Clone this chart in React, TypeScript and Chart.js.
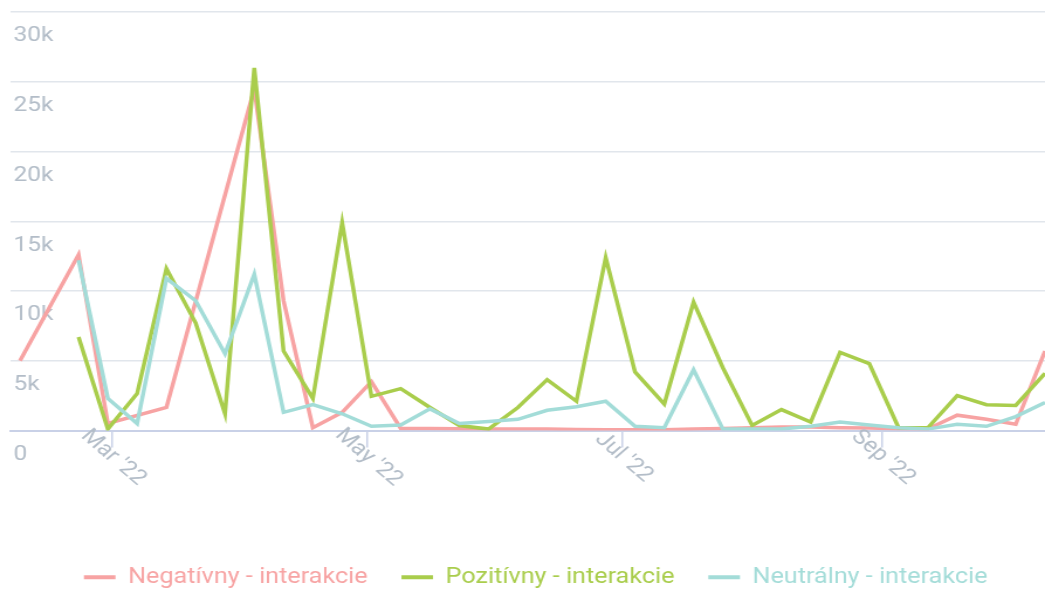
import React, { useEffect, useRef } from 'react';
import { Chart, registerables } from 'chart.js';

Chart.register(...registerables);

// Weekly data points (week start dates)
const weekStarts = [
  '2022-02-07', '2022-02-14', '2022-02-21', '2022-02-28',
  '2022-03-07', '2022-03-14', '2022-03-21', '2022-03-28',
  '2022-04-04', '2022-04-11', '2022-04-18', '2022-04-25',
  '2022-05-02', '2022-05-09', '2022-05-16', '2022-05-23', '2022-05-30',
  '2022-06-06', '2022-06-13', '2022-06-20', '2022-06-27',
  '2022-07-04', '2022-07-11', '2022-07-18', '2022-07-25',
  '2022-08-01', '2022-08-08', '2022-08-15', '2022-08-22', '2022-08-29',
  '2022-09-05', '2022-09-12', '2022-09-19', '2022-09-26',
  '2022-10-03', '2022-10-10',
];

const negativne = [
  5000, null, 12600, 500, null, 1650, null, null,
  24500, 9300, 200, 1300,
  3500, 150, 150, 120, 100,
  100, 100, 80, 60,
  50, 60, 100, 150,
  200, 250, 250, 200, 180,
  120, 100, 1100, 800,
  450, 5700,
];

const pozitivne = [
  null, null, 6700, 100, 2650, 11600, 7700, 1200,
  26000, 5700, 2300, 14900,
  2450, 3000, 1650, 360, 100,
  1650, 3650, 2100, 12400,
  4200, 1900, 9200, 4500,
  360, 1500, 600, 5600, 4800,
  200, 200, 2500, 1850,
  1800, 4100,
];

const neutralne = [
  null, null, 12200, 2300, 500, 10900, 9300, 5500,
  11200, 1300, 1850, 1200,
  300, 400, 1550, 500, 650,
  800, 1450, 1700, 2100,
  300, 200, 4350, 100,
  100, 100, 300, 600, 400,
  200, 100, 450, 300,
  1000, 2000,
];

const seriesNames = ['Negatívny - interakcie', 'Pozitívny - interakcie', 'Neutrálny - interakcie'];
const seriesColors = ['#f7a3a3', '#a9cd4c', '#a3dcd8'];

const monthTickDates = ['2022-03-01', '2022-05-01', '2022-07-01', '2022-09-01'];
const monthTickLabels = ["Mar '22", "May '22", "Jul '22", "Sep '22"];

const yTickLabels = ['0', '5k', '10k', '15k', '20k', '25k', '30k'];

const CSS_W = 1045;
const CSS_H = 589;
const STRETCH = 1.17;
const W = Math.round(CSS_W / STRETCH);
const H = CSS_H;

const dayOf = (s: string) => {
  const [y, m, d] = s.split('-').map(Number);
  return (Date.UTC(y, m - 1, d) - Date.UTC(2022, 0, 1)) / 86400000;
};

const FONT = 'Roboto';
const LABEL_COLOR = '#b3bdc8';
const AXIS_COLOR = '#c9d1e7';
const GRID_COLOR = '#e1e6ec';

const monthLabelPlugin = {
  id: 'monthLabels',
  afterDraw(chart: any) {
    const xs = chart.scales.x;
    const ctx = chart.ctx;
    ctx.save();
    ctx.font = `400 21px ${FONT}`;
    ctx.fillStyle = LABEL_COLOR;
    ctx.textAlign = 'center';
    ctx.textBaseline = 'middle';
    monthTickDates.forEach((d, i) => {
      const px = xs.getPixelForValue(dayOf(d));
      ctx.save();
      ctx.translate(px + 1, chart.chartArea.bottom + 27);
      ctx.rotate(Math.PI / 4);
      ctx.fillText(monthTickLabels[i], 0, 0);
      ctx.restore();
    });
    ctx.restore();
  },
};

const legendShiftPlugin = {
  id: 'legendShift',
  afterLayout(chart: any) {
    const lg = chart.legend;
    if (!lg) return;
    lg.left += 7;
    lg.right += 7;
    lg.top += 9;
    lg.bottom += 9;
  },
};

export default function App() {
  const canvasRef = useRef<HTMLCanvasElement | null>(null);

  useEffect(() => {
    const canvas = canvasRef.current;
    if (!canvas) return;
    const xVals = weekStarts.map(dayOf);
    const mk = (vals: (number | null)[]) => vals.map((v, i) => ({ x: xVals[i], y: v }));
    const seriesData = [negativne, pozitivne, neutralne];

    const chart = new Chart(canvas, {
      type: 'line',
      data: {
        datasets: seriesData.map((vals, i) => ({
          label: seriesNames[i],
          data: mk(vals),
          borderColor: seriesColors[i],
          backgroundColor: seriesColors[i],
          borderWidth: 3.5,
          pointRadius: 0,
          pointHoverRadius: 0,
          tension: 0,
          spanGaps: true,
          borderJoinStyle: 'miter',
          order: 2 - i,
        })),
      },
      plugins: [monthLabelPlugin, legendShiftPlugin],
      options: {
        animation: false,
        responsive: false,
        maintainAspectRatio: false,
        devicePixelRatio: 1,
        layout: { padding: { left: 8.5, right: 0, top: 12, bottom: 0 } },
        scales: {
          x: {
            type: 'linear',
            min: dayOf('2022-02-07') - 2.4,
            max: dayOf('2022-10-10'),
            afterBuildTicks: (scale: any) => {
              scale.ticks = monthTickDates.map((d) => ({ value: dayOf(d) }));
            },
            afterFit: (scale: any) => {
              scale.height = 98;
              scale.paddingLeft = 0;
              scale.paddingRight = 0;
            },
            ticks: { display: false },
            grid: {
              display: true,
              drawOnChartArea: false,
              drawTicks: true,
              tickLength: 17,
              color: AXIS_COLOR,
              lineWidth: 1.5,
            },
            border: { display: true, color: AXIS_COLOR, width: 2 },
          },
          y: {
            min: 0,
            max: 30000,
            afterBuildTicks: (scale: any) => {
              scale.ticks = yTickLabels.map((_, i) => ({ value: i * 5000 }));
            },
            afterFit: (scale: any) => {
              scale.width = 0;
              scale.paddingTop = 0;
              scale.paddingBottom = 0;
            },
            ticks: {
              mirror: true,
              padding: 3,
              labelOffset: 24,
              color: LABEL_COLOR,
              font: { family: FONT, size: 21 },
              callback: (_v: any, i: number) => yTickLabels[i],
            },
            grid: { color: GRID_COLOR, lineWidth: 1.5, drawTicks: false },
            border: { display: false },
          },
        },
        plugins: {
          tooltip: { enabled: false },
          legend: {
            display: true,
            position: 'bottom',
            labels: {
              font: { family: FONT, size: 21.5 },
              usePointStyle: true,
              pointStyleWidth: 27,
              padding: 29,
              generateLabels: (ch: any) =>
                ch.data.datasets.map((ds: any, i: number) => ({
                  text: ds.label,
                  fillStyle: seriesColors[i],
                  strokeStyle: seriesColors[i],
                  fontColor: seriesColors[i],
                  lineWidth: 4,
                  pointStyle: 'line',
                  hidden: false,
                  datasetIndex: i,
                })),
            },
          },
        },
      },
    } as any);

    return () => chart.destroy();
  }, []);

  return (
    <div style={{ position: 'absolute', left: 0, top: 0, width: CSS_W, height: CSS_H, background: '#fff' }}>
      <canvas
        ref={canvasRef}
        width={W}
        height={H}
        style={{ width: `${CSS_W}px`, height: `${CSS_H}px`, display: 'block' }}
      />
    </div>
  );
}
